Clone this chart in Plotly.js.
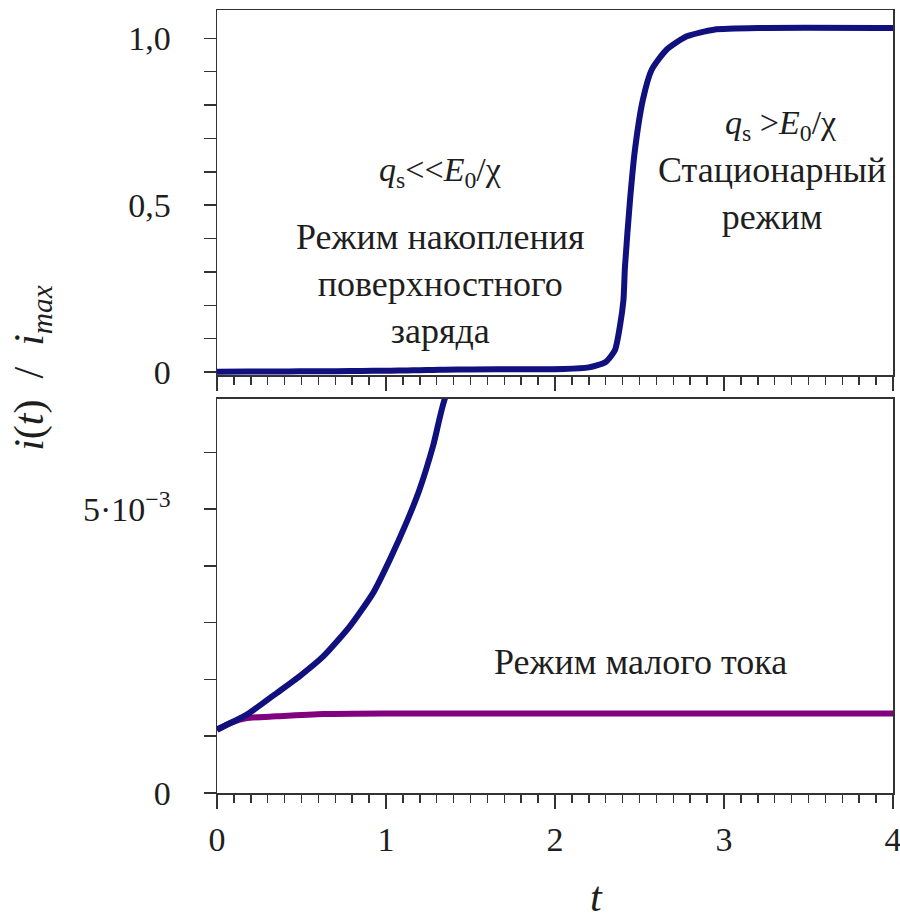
<!DOCTYPE html>
<html>
<head>
<meta charset="utf-8">
<script src="https://cdn.plot.ly/plotly-3.0.1.min.js"></script>
<style>
html,body{margin:0;padding:0;background:#fff}
#chart{width:900px;height:919px}
</style>
</head>
<body>
<div id="chart"></div>
<script>
// Data
var tBlue = [0, 0.176, 0.353, 0.49, 0.63, 0.787, 0.925, 1.024, 1.122, 1.2, 1.28, 1.35, 1.5, 1.8, 2.05, 2.2, 2.3, 2.355, 2.385, 2.405, 2.414, 2.444, 2.473, 2.52, 2.572, 2.66, 2.78, 2.94, 3.23, 4.0];
var iBlue = [0.00112, 0.00138, 0.00176, 0.00206, 0.00241, 0.00294, 0.00353, 0.00412, 0.00477, 0.00536, 0.00613, 0.00696, 0.0078, 0.0085, 0.009, 0.014, 0.03, 0.066, 0.14, 0.216, 0.316, 0.516, 0.666, 0.816, 0.906, 0.966, 1.006, 1.026, 1.031, 1.031];
var tPurple = [0, 0.077, 0.176, 0.353, 0.63, 1.0, 2.0, 3.0, 4.0];
var iPurple = [0.00111, 0.00123, 0.00132, 0.00135, 0.00139, 0.0014, 0.0014, 0.0014, 0.0014];

var topTickVals = [0, 0.5, 1.0];
var topTickText = ["0", "0,5", "1,0"];
var botTickVals = [0, 0.005];
var botTickText = ["0", "5·10<sup>−3</sup>"];
var xTickVals = [0, 1, 2, 3, 4];
var xTickText = ["0", "1", "2", "3", "4"];

var SERIF = "Times New Roman";
var INK = "#1e1e1e";
var BLUE = "#10107e";
var PURPLE = "#800080";

var traces = [
  {x: tPurple, y: iPurple, xaxis: "x2", yaxis: "y2", mode: "lines",
   line: {color: PURPLE, width: 6, shape: "spline", smoothing: 0.6}},
  {x: tBlue, y: iBlue, xaxis: "x2", yaxis: "y2", mode: "lines",
   line: {color: BLUE, width: 6, shape: "spline", smoothing: 0.6}},
  {x: tBlue, y: iBlue, xaxis: "x", yaxis: "y", mode: "lines",
   line: {color: BLUE, width: 6, shape: "spline", smoothing: 0.6}}
];

function ax(extra) {
  return Object.assign({
    showline: true, linecolor: "#333", linewidth: 1.5, mirror: true,
    showgrid: false, zeroline: false, ticks: "outside", tickcolor: "#333", tickwidth: 1.5,
    tickfont: {family: SERIF, size: 34, color: INK}
  }, extra);
}

function ann(x, y, text, size, extra) {
  return Object.assign({xref: "paper", yref: "paper", x: x, y: y, showarrow: false,
    xanchor: "center", yanchor: "middle", text: text,
    font: {family: SERIF, size: size, color: INK}}, extra || {});
}

var layout = {
  width: 900, height: 919,
  margin: {l: 217, r: 7, t: 10, b: 126},
  showlegend: false,
  font: {family: SERIF, size: 34, color: INK},
  xaxis: ax({
    anchor: "y", domain: [0, 1], range: [0, 4],
    tickmode: "array", tickvals: xTickVals, ticklen: 14, showticklabels: false,
    minor: {ticks: "outside", ticklen: 8, dtick: 0.1, tickcolor: "#333", tickwidth: 1.5, showgrid: false}
  }),
  xaxis2: ax({
    anchor: "y2", domain: [0, 1], range: [0, 4],
    tickmode: "array", tickvals: xTickVals, ticktext: xTickText, ticklen: 14,
    ticklabelstandoff: 2, ticklabeloverflow: "allow",
    minor: {ticks: "outside", ticklen: 8, dtick: 0.1, tickcolor: "#333", tickwidth: 1.5, showgrid: false}
  }),
  yaxis: ax({
    anchor: "x", domain: [0.5338, 1], range: [-0.009, 1.085],
    tickmode: "array", tickvals: topTickVals, ticktext: topTickText, ticklen: 12,
    ticklabelstandoff: 26,
    minor: {ticks: "outside", ticklen: 12, dtick: 0.1, tickcolor: "#333", tickwidth: 1.5, showgrid: false}
  }),
  yaxis2: ax({
    anchor: "x2", domain: [0, 0.5032], range: [0, 0.00694],
    tickmode: "array", tickvals: botTickVals, ticktext: botTickText, ticklen: 12,
    ticklabelstandoff: 26,
    minor: {ticks: "outside", ticklen: 12, dtick: 0.001, tickcolor: "#333", tickwidth: 1.5, showgrid: false}
  }),
  annotations: [
    ann(0.33, 0.793, "<i>q</i><sub>s</sub>&lt;&lt;<i>E</i><sub>0</sub>/χ", 34),
    ann(0.33, 0.650, "Режим накопления<br>поверхностного<br>заряда", 36),
    ann(0.833, 0.853, "<i>q</i><sub>s</sub> &gt;<i>E</i><sub>0</sub>/χ", 34),
    ann(0.821, 0.766, "Стационарный<br>режим", 36),
    ann(0.626, 0.167, "Режим малого тока", 36),
    ann(-0.2737, 0.543, "<i>i</i>(<i>t</i>)  /  <i>i<sub>max</sub></i>", 42, {textangle: -90}),
    ann(0.562, -0.133, "<i>t</i>", 42)
  ]
};

Plotly.newPlot("chart", traces, layout, {staticPlot: true}).then(function () {
  var nodes = document.querySelectorAll("#chart text, #chart tspan");
  for (var k = 0; k < nodes.length; k++) {
    nodes[k].style.setProperty("font-family", "'Liberation Serif', 'Times New Roman', serif", "important");
  }
});
</script>
</body>
</html>
